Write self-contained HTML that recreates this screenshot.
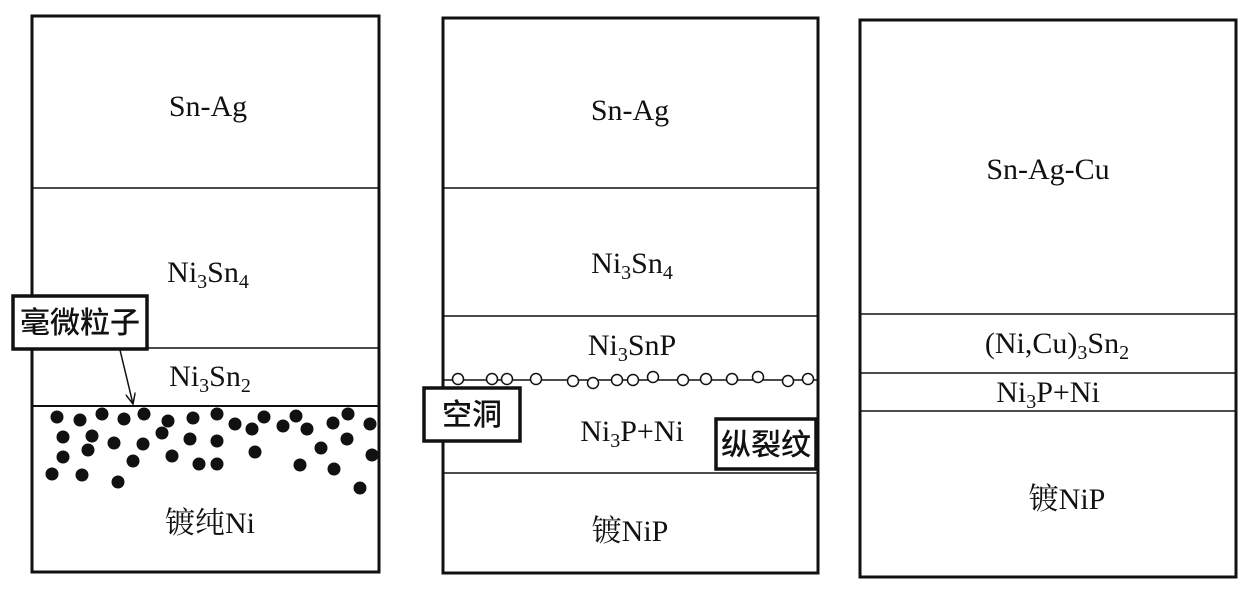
<!DOCTYPE html>
<html><head><meta charset="utf-8"><style>
html,body{margin:0;padding:0;background:#fff;width:1252px;height:593px;overflow:hidden}
text{font-family:"Liberation Serif","Noto Serif CJK SC",serif;font-size:30px;fill:#111}
.cj{font-family:"Liberation Serif","Noto Sans CJK SC",sans-serif;font-weight:500;font-size:30px}
</style></head><body>
<svg width="1252" height="593" viewBox="0 0 1252 593" xmlns="http://www.w3.org/2000/svg">
<defs><marker id="ah" markerWidth="12" markerHeight="10" refX="11" refY="5" orient="auto" markerUnits="userSpaceOnUse"><path d="M0,0 L11,5 L0,10" fill="none" stroke="#111" stroke-width="1.5"/></marker></defs>
<g stroke="#111" fill="none">
<rect x="32" y="16" width="347" height="556" stroke-width="3"/>
<line x1="32" y1="188" x2="379" y2="188" stroke-width="1.5"/>
<line x1="32" y1="348" x2="379" y2="348" stroke-width="1.5"/>
<line x1="32" y1="406" x2="379" y2="406" stroke-width="2"/>
<rect x="443" y="18" width="375" height="555" stroke-width="3"/>
<line x1="443" y1="188" x2="818" y2="188" stroke-width="1.5"/>
<line x1="443" y1="316" x2="818" y2="316" stroke-width="1.5"/>
<line x1="443" y1="380" x2="818" y2="380" stroke-width="1.5"/>
<line x1="443" y1="473" x2="818" y2="473" stroke-width="1.5"/>
<rect x="860" y="20" width="376" height="557" stroke-width="3"/>
<line x1="860" y1="314" x2="1236" y2="314" stroke-width="1.5"/>
<line x1="860" y1="373" x2="1236" y2="373" stroke-width="1.5"/>
<line x1="860" y1="411" x2="1236" y2="411" stroke-width="1.5"/>
</g>
<g fill="#111">
<circle cx="57" cy="417" r="6.5"/><circle cx="80" cy="420" r="6.5"/><circle cx="102" cy="414" r="6.5"/><circle cx="124" cy="419" r="6.5"/><circle cx="144" cy="414" r="6.5"/><circle cx="168" cy="421" r="6.5"/><circle cx="193" cy="418" r="6.5"/><circle cx="217" cy="414" r="6.5"/><circle cx="235" cy="424" r="6.5"/><circle cx="252" cy="429" r="6.5"/><circle cx="264" cy="417" r="6.5"/><circle cx="283" cy="426" r="6.5"/><circle cx="296" cy="416" r="6.5"/><circle cx="307" cy="429" r="6.5"/><circle cx="333" cy="423" r="6.5"/><circle cx="348" cy="414" r="6.5"/><circle cx="370" cy="424" r="6.5"/>
<circle cx="63" cy="437" r="6.5"/><circle cx="92" cy="436" r="6.5"/><circle cx="114" cy="443" r="6.5"/><circle cx="143" cy="444" r="6.5"/><circle cx="162" cy="433" r="6.5"/><circle cx="190" cy="439" r="6.5"/><circle cx="217" cy="441" r="6.5"/><circle cx="347" cy="439" r="6.5"/><circle cx="321" cy="448" r="6.5"/>
<circle cx="63" cy="457" r="6.5"/><circle cx="88" cy="450" r="6.5"/><circle cx="133" cy="461" r="6.5"/><circle cx="172" cy="456" r="6.5"/><circle cx="199" cy="464" r="6.5"/><circle cx="217" cy="464" r="6.5"/><circle cx="255" cy="452" r="6.5"/><circle cx="300" cy="465" r="6.5"/><circle cx="372" cy="455" r="6.5"/>
<circle cx="52" cy="474" r="6.5"/><circle cx="82" cy="475" r="6.5"/><circle cx="118" cy="482" r="6.5"/><circle cx="334" cy="469" r="6.5"/><circle cx="360" cy="488" r="6.5"/>
</g>
<g fill="#fff" stroke="#111" stroke-width="1.5">
<circle cx="458" cy="379" r="5.5"/><circle cx="492" cy="379" r="5.5"/><circle cx="507" cy="379" r="5.5"/><circle cx="536" cy="379" r="5.5"/><circle cx="573" cy="381" r="5.5"/><circle cx="593" cy="383" r="5.5"/><circle cx="617" cy="380" r="5.5"/><circle cx="633" cy="380" r="5.5"/><circle cx="653" cy="377" r="5.5"/><circle cx="683" cy="380" r="5.5"/><circle cx="706" cy="379" r="5.5"/><circle cx="732" cy="379" r="5.5"/><circle cx="758" cy="377" r="5.5"/><circle cx="788" cy="381" r="5.5"/><circle cx="808" cy="379" r="5.5"/>
</g>
<rect x="13" y="296" width="134" height="53" fill="#fff" stroke="#111" stroke-width="3.5"/>
<text class="cj" x="80" y="333" text-anchor="middle">毫微粒子</text>
<line x1="120" y1="350" x2="133" y2="404" stroke="#111" stroke-width="1.5" marker-end="url(#ah)"/>
<rect x="424" y="388" width="96" height="53" fill="#fff" stroke="#111" stroke-width="3.5"/>
<text class="cj" x="472" y="425" text-anchor="middle">空洞</text>
<rect x="716" y="419" width="100" height="50" fill="#fff" stroke="#111" stroke-width="3.5"/>
<text class="cj" x="766" y="455" text-anchor="middle">纵裂纹</text>
<text x="208" y="116" text-anchor="middle">Sn-Ag</text>
<text x="208" y="282" text-anchor="middle">Ni<tspan font-size="20" dy="6">3</tspan><tspan dy="-6">Sn</tspan><tspan font-size="20" dy="6">4</tspan></text>
<text x="210" y="386" text-anchor="middle">Ni<tspan font-size="20" dy="6">3</tspan><tspan dy="-6">Sn</tspan><tspan font-size="20" dy="6">2</tspan></text>
<text x="210" y="533" text-anchor="middle">镀纯Ni</text>
<text x="630" y="120" text-anchor="middle">Sn-Ag</text>
<text x="632" y="273" text-anchor="middle">Ni<tspan font-size="20" dy="6">3</tspan><tspan dy="-6">Sn</tspan><tspan font-size="20" dy="6">4</tspan></text>
<text x="632" y="355" text-anchor="middle">Ni<tspan font-size="20" dy="6">3</tspan><tspan dy="-6">SnP</tspan></text>
<text x="632" y="441" text-anchor="middle">Ni<tspan font-size="20" dy="6">3</tspan><tspan dy="-6">P+Ni</tspan></text>
<text x="630" y="541" text-anchor="middle">镀NiP</text>
<text x="1048" y="179" text-anchor="middle">Sn-Ag-Cu</text>
<text x="1057" y="353" text-anchor="middle">(Ni,Cu)<tspan font-size="20" dy="6">3</tspan><tspan dy="-6">Sn</tspan><tspan font-size="20" dy="6">2</tspan></text>
<text x="1048" y="402" text-anchor="middle">Ni<tspan font-size="20" dy="6">3</tspan><tspan dy="-6">P+Ni</tspan></text>
<text x="1067" y="509" text-anchor="middle">镀NiP</text>
</svg>
</body></html>
